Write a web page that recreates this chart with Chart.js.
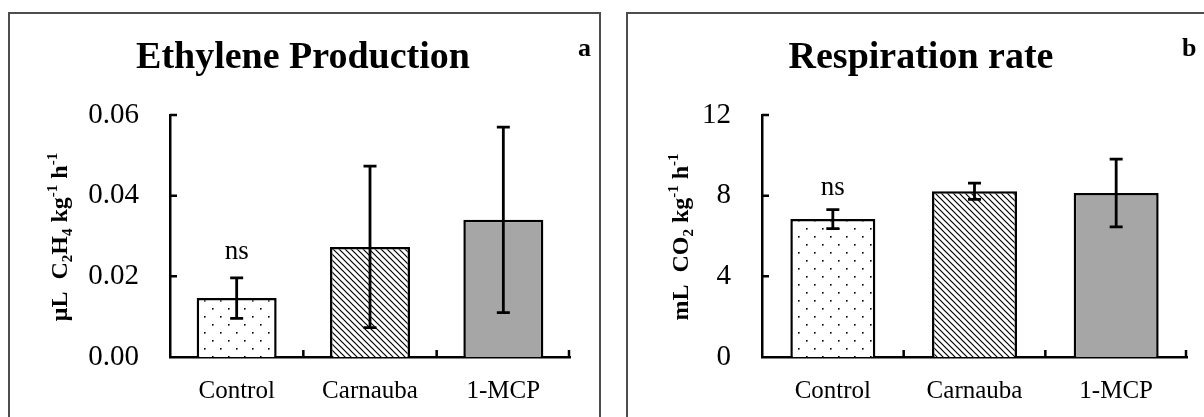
<!DOCTYPE html>
<html>
<head>
<meta charset="utf-8">
<script src="https://cdn.jsdelivr.net/npm/chart.js@4.4.1/dist/chart.umd.min.js"></script>
<style>
  body { margin: 0; background: #fff; width: 1204px; height: 417px; overflow: hidden; position: relative; }
  .frame { position: absolute; border: 2px solid #4d4d4d; box-sizing: border-box; }
  .wrap { position: absolute; top: 0; height: 417px; }
</style>
</head>
<body>
<div class="frame" style="left:8px;top:12px;width:593px;height:430px"></div>
<div class="frame" style="left:626px;top:12px;width:600px;height:430px"></div>
<div class="wrap" style="left:0;width:610px"><canvas id="ethylene"></canvas></div>
<div class="wrap" style="left:610px;width:594px"><canvas id="respiration"></canvas></div>

<script>
const categories = ['Control', 'Carnauba', '1-MCP'];

const ethylene = [0.0146, 0.0273, 0.034];
const ethyleneErr = [0.005, 0.020, 0.023];
const ethyleneTicks = [0, 0.06, 0.02]; // min, max, step

const respiration = [6.84, 8.22, 8.13];
const respirationErr = [0.47, 0.40, 1.68];
const respirationTicks = [0, 12, 4];

const SERIF = '"Liberation Serif", "Times New Roman", serif';

// fill patterns for the bars
function dots() {
    const c = document.createElement('canvas');
    c.width = 16; c.height = 16;
    const g = c.getContext('2d');
    g.fillStyle = '#fff';
    g.fillRect(0, 0, 16, 16);
    g.fillStyle = '#000';
    g.fillRect(4, 4, 1.6, 1.6);
    g.fillRect(12, 12, 1.6, 1.6);
    return g.createPattern(c, 'repeat');
}

function hatch() {
    const c = document.createElement('canvas');
    c.width = 6; c.height = 6;
    const g = c.getContext('2d');
    g.fillStyle = '#fff';
    g.fillRect(0, 0, 6, 6);
    g.strokeStyle = '#000';
    g.lineWidth = 1.2;
    g.beginPath();
    g.moveTo(-1, -1); g.lineTo(7, 7);
    g.moveTo(-1, 5); g.lineTo(1, 7);
    g.moveTo(5, -1); g.lineTo(7, 1);
    g.stroke();
    return g.createPattern(c, 'repeat');
}

// draws a label made of normal / sub / sup pieces, rotated to read upward
function drawAxisTitle(ctx, parts, x, y) {
    ctx.save();
    ctx.translate(x, y);
    ctx.rotate(-Math.PI / 2);
    ctx.fillStyle = '#000';
    ctx.textBaseline = 'alphabetic';
    ctx.textAlign = 'left';
    const fontOf = p => 'bold ' + (p[1] ? 15 : 24) + 'px ' + SERIF;
    let total = 0;
    parts.forEach(p => { ctx.font = fontOf(p); total += ctx.measureText(p[0]).width; });
    let cx = -total / 2;
    parts.forEach(p => {
        ctx.font = fontOf(p);
        const dy = p[1] === 'sub' ? 5 : p[1] === 'sup' ? -10 : 0;
        ctx.fillText(p[0], cx, dy);
        cx += ctx.measureText(p[0]).width;
    });
    ctx.restore();
}

const decor = {
    id: 'decor',
    afterDatasetsDraw(chart) {
        const o = chart.options.plugins.decor;
        const ctx = chart.ctx;
        const xs = chart.scales.x, ys = chart.scales.y;
        const area = chart.chartArea;
        const meta = chart.getDatasetMeta(0);
        const values = chart.data.datasets[0].data;

        ctx.save();
        ctx.strokeStyle = '#000';
        ctx.lineWidth = 2.8;

        // error bars
        values.forEach((v, i) => {
            const x = meta.data[i].x;
            const top = ys.getPixelForValue(v + o.err[i]);
            const bot = ys.getPixelForValue(v - o.err[i]);
            ctx.beginPath();
            ctx.moveTo(x, top); ctx.lineTo(x, bot);
            ctx.moveTo(x - 6.5, top); ctx.lineTo(x + 6.5, top);
            ctx.moveTo(x - 6.5, bot); ctx.lineTo(x + 6.5, bot);
            ctx.stroke();
        });

        // inward tick marks
        ctx.lineWidth = 2.5;
        ctx.beginPath();
        ys.ticks.forEach(t => {
            if (t.value === 0) return;
            const y = ys.getPixelForValue(t.value);
            ctx.moveTo(area.left, y); ctx.lineTo(area.left + 7, y);
        });
        const edges = [];
        for (let i = 0; i < categories.length - 1; i++) {
            edges.push((xs.getPixelForValue(i) + xs.getPixelForValue(i + 1)) / 2);
        }
        edges.push(area.right - 1);
        edges.forEach(x => { ctx.moveTo(x, area.bottom); ctx.lineTo(x, area.bottom - 7); });
        ctx.stroke();

        // "ns" over the first bar
        const nsY = ys.getPixelForValue(values[0] + o.err[0]) - o.nsGap;
        ctx.fillStyle = '#000';
        ctx.font = '27px ' + SERIF;
        ctx.textAlign = 'center';
        ctx.textBaseline = 'alphabetic';
        ctx.fillText('ns', meta.data[0].x, nsY);

        // chart title and panel letter
        ctx.font = 'bold 38px ' + SERIF;
        ctx.fillText(o.title, o.titleX, 68);
        ctx.font = 'bold 26px ' + SERIF;
        ctx.textAlign = 'left';
        ctx.fillText(o.letter, o.letterX, 56);
        ctx.restore();

        drawAxisTitle(ctx, o.yTitle, o.yTitleX, 237);
    }
};

function makeChart(id, values, err, ticks, opts) {
    return new Chart(document.getElementById(id), {
        type: 'bar',
        data: {
            labels: categories,
            datasets: [{
                data: values,
                backgroundColor: [dots(), hatch(), '#a6a6a6'],
                borderColor: '#000',
                borderWidth: 2.5,
                categoryPercentage: 1,
                barPercentage: 0.6
            }]
        },
        options: {
            responsive: true,
            maintainAspectRatio: false,
            animation: false,
            layout: { padding: opts.pad },
            plugins: {
                legend: { display: false },
                tooltip: { enabled: false },
                decor: Object.assign({ err: err }, opts.decor)
            },
            scales: {
                x: {
                    grid: { display: false, drawTicks: false },
                    border: { display: true, color: '#000', width: 2.5 },
                    ticks: { color: '#000', padding: 19, font: { family: SERIF, size: 25 } },
                    afterFit: s => { s.height = 60; }
                },
                y: {
                    min: ticks[0],
                    max: ticks[1],
                    grid: { display: false, drawTicks: false },
                    border: { display: true, color: '#000', width: 2.5 },
                    ticks: {
                        stepSize: ticks[2],
                        color: '#000',
                        padding: 31,
                        font: { family: SERIF, size: 29 },
                        callback: v => opts.fmt(v)
                    },
                    afterFit: s => { s.width = 100; }
                }
            }
        },
        plugins: [decor]
    });
}

makeChart('ethylene', ethylene, ethyleneErr, ethyleneTicks, {
    pad: { left: 70, right: 40, top: 115, bottom: 0 },
    fmt: v => v.toFixed(2),
    decor: {
        title: 'Ethylene Production', titleX: 303,
        letter: 'a', letterX: 578,
        nsGap: 19,
        yTitleX: 67,
        yTitle: [['μL  C'], ['2', 'sub'], ['H'], ['4', 'sub'], [' kg'], ['-1', 'sup'], [' h'], ['-1', 'sup']]
    }
});

makeChart('respiration', respiration, respirationErr, respirationTicks, {
    pad: { left: 52, right: 17, top: 115, bottom: 0 },
    fmt: v => String(v),
    decor: {
        title: 'Respiration rate', titleX: 311,
        letter: 'b', letterX: 572,
        nsGap: 15,
        yTitleX: 78,
        yTitle: [['mL  CO'], ['2', 'sub'], [' kg'], ['-1', 'sup'], [' h'], ['-1', 'sup']]
    }
});
</script>
</body>
</html>
